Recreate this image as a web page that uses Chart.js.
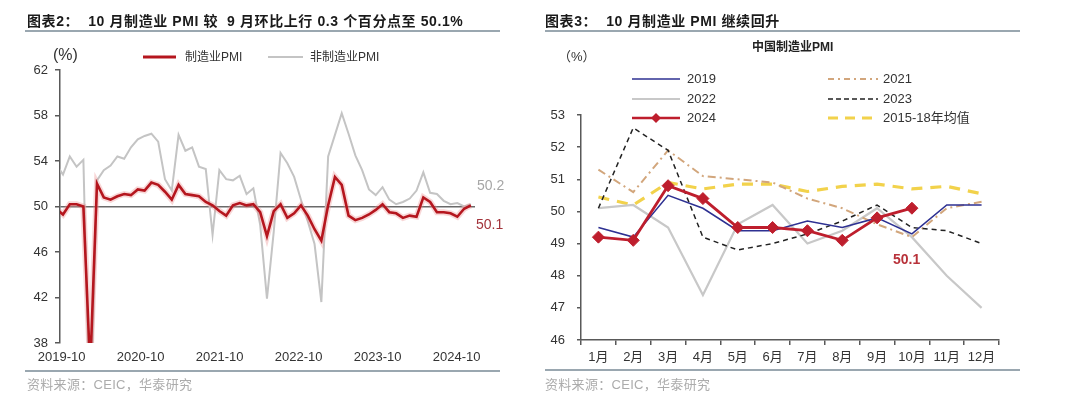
<!DOCTYPE html>
<html><head><meta charset="utf-8">
<script src="https://cdn.jsdelivr.net/npm/chart.js@4.4.1/dist/chart.umd.min.js"></script>
<style>
body{margin:0;width:1080px;height:397px;background:#fff;position:relative;overflow:hidden;font-family:"Liberation Sans","Noto Sans CJK SC",sans-serif;color:#333;}
.abs{position:absolute;white-space:nowrap;}
.title{font-weight:bold;font-size:14px;color:#1a1a1a;line-height:16px;letter-spacing:0.6px;}
.rule{position:absolute;background:#9aa7b0;}
.src{font-size:13px;color:#acacac;line-height:15px;letter-spacing:0.3px;}
.lg{font-size:12px;line-height:14px;color:#333;}
.lg2{font-size:13px;line-height:15px;color:#333;}
canvas{position:absolute;top:0;}
svg{position:absolute;left:0;top:0;}
</style></head>
<body>
<canvas id="c1" width="540" height="397" style="left:0;width:540px;height:397px"></canvas>
<canvas id="c2" width="540" height="397" style="left:540px;width:540px;height:397px"></canvas>

<div class="abs title" style="left:27px;top:13px">图表2：&nbsp;&nbsp;10 月制造业 PMI 较&nbsp;&nbsp;9 月环比上行 0.3 个百分点至 50.1%</div>
<div class="rule" style="left:25px;top:30px;width:475px;height:2px"></div>
<div class="abs title" style="left:545px;top:13px">图表3：&nbsp;&nbsp;10 月制造业 PMI 继续回升</div>
<div class="rule" style="left:545px;top:30px;width:475px;height:2px"></div>

<div class="abs" style="left:53px;top:46px;font-size:16px;line-height:18px;color:#333">(%)</div>
<div class="abs lg" style="left:185px;top:50px">制造业PMI</div>
<div class="abs lg" style="left:310px;top:50px">非制造业PMI</div>
<div class="abs" style="left:477px;top:177px;font-size:14px;line-height:16px;color:#a6a6a6">50.2</div>
<div class="abs" style="left:476px;top:216px;font-size:14px;line-height:16px;color:#a3333b">50.1</div>

<div class="abs" style="left:752px;top:40px;font-size:12px;line-height:14px;font-weight:bold;color:#222">中国制造业PMI</div>
<div class="abs lg2" style="left:558px;top:49px">（%）</div>
<div class="abs lg2" style="left:687px;top:71px">2019</div>
<div class="abs lg2" style="left:687px;top:91px">2022</div>
<div class="abs lg2" style="left:687px;top:110px">2024</div>
<div class="abs lg2" style="left:883px;top:71px">2021</div>
<div class="abs lg2" style="left:883px;top:91px">2023</div>
<div class="abs lg2" style="left:883px;top:110px">2015-18年均值</div>
<div class="abs" style="left:893px;top:251px;font-size:14px;line-height:16px;font-weight:bold;color:#b8323a">50.1</div>

<div class="rule" style="left:25px;top:370px;width:475px;height:2px"></div>
<div class="rule" style="left:545px;top:369px;width:475px;height:2px"></div>
<div class="abs src" style="left:27px;top:377px">资料来源：CEIC，华泰研究</div>
<div class="abs src" style="left:545px;top:377px">资料来源：CEIC，华泰研究</div>

<svg width="1080" height="397">
  <line x1="143" y1="57" x2="176" y2="57" stroke="#b5161e" stroke-width="3"/>
  <line x1="268" y1="57" x2="303" y2="57" stroke="#c4c4c4" stroke-width="2"/>
  <line x1="632" y1="79" x2="680" y2="79" stroke="#2e3192" stroke-width="1.5"/>
  <line x1="632" y1="99" x2="680" y2="99" stroke="#c8c8c8" stroke-width="2"/>
  <line x1="632" y1="118" x2="680" y2="118" stroke="#be1e2d" stroke-width="2.5"/>
  <polygon points="656,113 661,118 656,123 651,118" fill="#be1e2d"/>
  <line x1="828" y1="79" x2="878" y2="79" stroke="#d2a67c" stroke-width="2" stroke-dasharray="6 4 2 4"/>
  <line x1="828" y1="99" x2="878" y2="99" stroke="#222" stroke-width="1.5" stroke-dasharray="5 3"/>
  <line x1="828" y1="118" x2="872" y2="118" stroke="#f2d24b" stroke-width="3" stroke-dasharray="10 7"/>
</svg>

<script>
// ---------- Chart 2 data (monthly, 2019-09 .. 2024-10) ----------
const months = [];
for (let y = 2019, m = 9; ; m++) { if (m > 12) { m = 1; y++; } if (y === 2024 && m === 11) break; months.push(y + '-' + String(m).padStart(2, '0')); }
const manufPMI = [49.8,49.3,50.2,50.2,50.0,35.7,52.0,50.8,50.6,50.9,51.1,51.0,51.5,51.4,52.1,51.9,51.3,50.6,51.9,51.1,51.0,50.9,50.4,50.1,49.6,49.2,50.1,50.3,50.1,50.2,49.5,47.4,49.6,50.2,49.0,49.4,50.1,49.2,48.0,47.0,50.1,52.6,51.9,49.2,48.8,49.0,49.3,49.7,50.2,49.5,49.4,49.0,49.2,49.1,50.8,50.4,49.5,49.5,49.4,49.1,49.8,50.1];
const nonManufPMI = [53.7,52.8,54.4,53.5,54.1,29.6,52.3,53.2,53.6,54.4,54.2,55.2,55.9,56.2,56.4,55.7,52.4,51.4,56.3,54.9,55.2,53.5,53.3,47.5,53.2,52.4,52.3,52.7,51.1,51.6,48.4,41.9,47.8,54.7,53.8,52.6,50.6,48.7,46.7,41.6,54.4,56.3,58.2,56.4,54.5,53.2,51.5,51.0,51.7,50.6,50.2,50.4,50.7,51.4,53.0,51.2,51.1,50.5,50.2,50.3,50.0,50.2];
const xTickLabels = ['2019-10','2020-10','2021-10','2022-10','2023-10','2024-10'];
const yTicks1 = [38,42,46,50,54,58,62];

// ---------- Chart 3 data ----------
const monthLabels = ['1月','2月','3月','4月','5月','6月','7月','8月','9月','10月','11月','12月'];
const y2019 = [49.5,49.2,50.5,50.1,49.4,49.4,49.7,49.5,49.8,49.3,50.2,50.2];
const y2021 = [51.3,50.6,51.9,51.1,51.0,50.9,50.4,50.1,49.6,49.2,50.1,50.3];
const y2022 = [50.1,50.2,49.5,47.4,49.6,50.2,49.0,49.4,50.1,49.2,48.0,47.0];
const y2023 = [50.1,52.6,51.9,49.2,48.8,49.0,49.3,49.7,50.2,49.5,49.4,49.0];
const y2024 = [49.2,49.1,50.8,50.4,49.5,49.5,49.4,49.1,49.8,50.1];
const avg1518 = [50.45,50.2,50.9,50.7,50.85,50.85,50.62,50.78,50.85,50.7,50.78,50.55];

const AXIS = '#595959';
const FONT = {family:'"Liberation Sans","Noto Sans CJK SC",sans-serif', size:13};
Chart.defaults.font = FONT;
Chart.defaults.color = '#333';

const pts = arr => arr.map((v,i)=>({x:i,y:v}));
const LABEL_FIRST = 0.8, LABEL_STEP = 11.62; // label anchors (months from first point)

new Chart(document.getElementById('c1'), {
  type:'line',
  data:{datasets:[
    {label:'非制造业PMI', data:pts(nonManufPMI), borderColor:'#c4c4c4', borderWidth:2, pointRadius:0, tension:0, order:2},
    {label:'glow', data:pts(manufPMI), borderColor:'rgba(235,140,140,0.35)', borderWidth:6, pointRadius:0, tension:0, order:1},
    {label:'制造业PMI', data:pts(manufPMI), borderColor:'#b5161e', borderWidth:2.6, pointRadius:0, tension:0, order:0}
  ]},
  options:{
    responsive:false, animation:false, devicePixelRatio:1,
    layout:{padding:{left:0, top:70, right:65, bottom:24}},
    plugins:{legend:{display:false}, tooltip:{enabled:false}},
    scales:{
      x:{type:'linear', min:0.56, max:61.6,
        afterBuildTicks:s=>{ s.ticks = xTickLabels.map((_,k)=>({value:LABEL_FIRST+k*LABEL_STEP})); },
        afterFit:s=>{ s.height = 30; },
        grid:{display:false, drawTicks:false}, border:{display:false},
        ticks:{padding:7, color:'#333', maxRotation:0, autoSkip:false, callback:(v,i)=>xTickLabels[i]}},
      y:{min:38, max:62,
        afterBuildTicks:s=>{ s.ticks = yTicks1.map(v=>({value:v})); },
        afterFit:s=>{ s.width = 60; },
        grid:{color:c=>c.tick && c.tick.value===50 ? '#6a6a6a' : 'rgba(0,0,0,0)', tickColor:AXIS, tickLength:5, lineWidth:1.5},
        border:{display:true, color:AXIS, width:1.5},
        ticks:{padding:7, color:'#333'}}
    }
  }
});

new Chart(document.getElementById('c2'), {
  type:'line',
  data:{labels:monthLabels, datasets:[
    {label:'2015-18年均值', data:avg1518, borderColor:'#f2d24b', borderWidth:3.2, borderDash:[11,8], pointRadius:0, tension:0, order:6},
    {label:'2022', data:y2022, borderColor:'#c8c8c8', borderWidth:2.2, pointRadius:0, tension:0, order:5},
    {label:'2021', data:y2021, borderColor:'#d2a67c', borderWidth:2, borderDash:[8,4,2,4], pointRadius:0, tension:0, order:4},
    {label:'2023', data:y2023, borderColor:'#222', borderWidth:1.5, borderDash:[5,4], pointRadius:0, tension:0, order:3},
    {label:'2019', data:y2019, borderColor:'#2e3192', borderWidth:1.6, pointRadius:0, tension:0, order:2},
    {label:'2024', data:y2024, borderColor:'#be1e2d', borderWidth:2.8, pointStyle:'rectRot', pointRadius:6, pointBackgroundColor:'#be1e2d', pointBorderColor:'#be1e2d', pointBorderWidth:1, tension:0, order:1}
  ]},
  options:{
    responsive:false, animation:false, devicePixelRatio:1,
    layout:{padding:{left:0, top:115, right:81, bottom:27}},
    plugins:{legend:{display:false}, tooltip:{enabled:false}},
    scales:{
      x:{offset:true, afterFit:s=>{ s.height = 30; },
        grid:{offset:true, drawOnChartArea:false, drawTicks:true, tickLength:5, color:AXIS, lineWidth:1.5},
        border:{display:true, color:AXIS, width:1.5},
        ticks:{padding:5, color:'#333', maxRotation:0, autoSkip:false}},
      y:{min:46, max:53, afterFit:s=>{ s.width = 41; },
        grid:{drawOnChartArea:false, tickLength:4, color:AXIS, lineWidth:1.5},
        border:{display:true, color:AXIS, width:1.5},
        ticks:{stepSize:1, padding:12, color:'#333'}}
    }
  }
});
</script>
</body></html>
